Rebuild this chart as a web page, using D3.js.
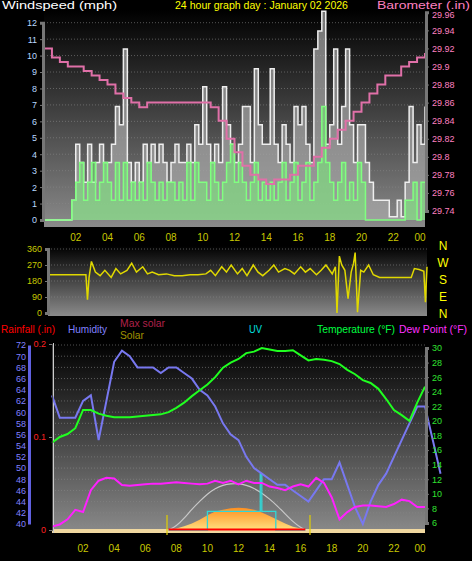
<!DOCTYPE html>
<html><head><meta charset="utf-8">
<script src="https://cdn.jsdelivr.net/npm/d3@7"></script>
<style>
body{margin:0;background:#000;}
text{font-family:"Liberation Sans","DejaVu Sans",sans-serif;}
</style></head><body>
<svg id="c" width="472" height="561"></svg>
<script>
// ---- data ----
const hourTicks = [2,4,6,8,10,12,14,16,18,20,22,24];
const hourLabels = ["02","04","06","08","10","12","14","16","18","20","22","00"];

// wind, 15 minute steps from 00:00 to 24:00
const windGust = [0,0,0,0, 0,0,0,1.2, 4.6,3.5,2.3,4.6, 2.3,3.5,4.6,3.5, 3.5,4.6,6.9,5.8,
  10.4,3.5,2.3,3.5, 2.3,4.6,3.5,4.6, 3.5,4.6,3.5,2.3, 3.5,4.6,3.5,3.5, 4.6,3.5,5.8,4.6,
  8.1,4.6,3.5,4.6, 3.5,8.1,5.8,4.6, 3.5,4.6,6.9,6.9, 3.5,9.2,5.8,4.6, 4.6,9.2,4.6,3.5,
  5.8,4.6,3.5,6.9, 5.8,6.9,4.6,3.5, 10.4,11.5,12.7,4.6, 5.8,10.4,4.6,6.9, 10.4,5.8,3.5,5.8,
  5.8,3.5,2.3,1.2, 1.2,1.2,1.2,0.2, 0.2,1.2,0.2,2.3, 6.9,3.5,5.8,4.6, 6.9];
const windAvg = [0,0,0,0, 0,0,0,1.2, 2.3,3.5,1.2,2.3, 3.5,1.2,2.3,3.5, 2.3,1.2,3.5,1.2,
  3.5,1.2,2.3,1.2, 2.3,1.2,3.5,2.3, 1.2,2.3,1.2,2.3, 2.3,1.2,2.3,1.2, 3.5,1.2,3.5,2.3,
  2.3,1.2,3.5,2.3, 1.2,2.3,3.5,4.6, 2.3,3.5,2.3,1.2, 2.3,3.5,1.2,2.3, 1.2,2.3,1.2,2.3,
  3.5,1.2,2.3,3.5, 1.2,2.3,3.5,1.2, 2.3,3.5,6.9,3.5, 2.3,1.2,2.3,3.5, 1.2,2.3,1.2,3.5,
  2.3,0,0,0, 0,0,0,0, 0,0,0,1.2, 1.2,2.3,0,2.3, 2.3];

// barometer, 30 minute steps
const baro = [29.92,29.91,29.905,29.9,29.9,29.895,29.89,29.885,29.88,29.87,29.865,29.86,29.855,
  29.86,29.86,29.86,29.86,29.86,29.86,29.86,29.86,29.855,29.84,29.82,29.805,29.79,29.78,29.775,
  29.77,29.775,29.775,29.78,29.79,29.79,29.8,29.81,29.82,29.83,29.84,29.85,29.86,29.87,29.88,
  29.89,29.89,29.9,29.905,29.91,29.915];

// wind direction
const dirHours = [0,1,2,2.4,2.5,2.6,2.75,3,3.3,3.6,4,4.3,4.6,5,5.3,5.6,6,6.3,6.6,7,7.5,8,8.5,9,9.5,10,
  10.3,10.6,11,11.3,11.6,12,12.3,12.6,13,13.3,13.6,14,14.3,14.6,15,15.3,15.6,16,16.3,16.6,17,17.3,17.6,
  18,18.2,18.3,18.45,18.6,18.8,19,19.2,19.35,19.45,19.6,19.8,20,20.3,20.6,21,22,23,23.2,23.5,23.8,23.9,24];
const dirDeg = [215,215,215,215,75,200,290,230,210,240,200,250,220,240,280,230,260,220,230,215,220,210,210,215,215,220,
  240,210,260,230,270,220,250,210,270,230,210,240,270,230,250,240,220,260,230,250,215,240,270,
  220,260,0,320,270,240,80,230,280,340,5,240,230,270,215,200,200,200,250,245,235,60,260];

// bottom panel, 30 minute steps
const humidity = [63,59,59,59,62,63,55,62,69,71,70,68,68,68,67,68,68,67,66,64,63,61,58,56,55,52,50,49,
  48,47,47,46,45,44,46,48,48,51,47,43,40,44,47,49,52,55,58,61,61,55,49];
const temperature = [17,17.8,18.2,19,21.5,21.5,21,20.7,20.5,20.5,20.5,20.6,20.7,20.8,20.9,21.2,21.8,22.5,23.4,24.2,
  25,26,27.3,28,28.5,29.3,29.5,30,29.8,29.6,29.6,29.7,29,28.3,28.5,28.4,28.2,27.8,27,26.4,25.6,25.2,24.4,23,21.5,
  20.8,20,22.5,24.7];
const dewPoint = [5.5,5.8,6.5,7.8,7.5,10.5,11.8,12.2,12.1,11.2,11.1,11.2,11.3,11.4,11.4,11.5,11.6,11.5,11.4,11.3,
  11.4,11.8,11.5,11.8,11.3,11.8,11.5,11.5,11,10.8,10.5,11,11.3,11,12.2,11.5,9.5,6.5,7.5,8.2,8.4,8.4,8.3,8.2,8.6,
  9.2,9,8.2,8.2];
const solarHours = [7.5,8,8.5,9,9.5,10,10.5,11,11.5,12,12.5,13,13.5,14,14.5,15,15.5,16,16.3];
const maxSolar = [0,8,25,45,62,78,90,97,100,100,97,90,80,67,52,35,18,5,0];
const solar = [0,3,8,14,22,32,40,44,47,48,47,44,38,30,22,14,7,3,0];
const uvHours = [7.5,10,13.4,13.5,14.4,16.3];
const uvIndex = [0,1,3,1,0,0];
const sunTimes = [7.4,16.6];

const svg = d3.select('#c');
const defs = svg.append('defs');
const grad = defs.append('linearGradient').attr('id','bg').attr('x1',0).attr('x2',0).attr('y1',0).attr('y2',1);
grad.append('stop').attr('offset','0%').attr('stop-color','#000');
grad.append('stop').attr('offset','100%').attr('stop-color','#8a8a8a');

function panel(x0,x1,y0,y1){
  svg.append('rect').attr('x',x0).attr('y',y0).attr('width',x1-x0).attr('height',y1-y0).attr('fill','url(#bg)');
}
function grid(g,x0,x1,ys){
  ys.forEach(y=>g.append('line').attr('x1',x0).attr('x2',x1).attr('y1',y).attr('y2',y)
    .attr('stroke','#888').attr('stroke-dasharray','1,2').attr('opacity',0.6));
}
function styleAxis(g,col){
  g.selectAll('path').attr('stroke','#777').attr('stroke-width',3);
  g.selectAll('line').attr('stroke','#777');
  g.selectAll('text').attr('fill',col).style('font-size','9px');
}
function timeAxis(x,y){
  hourTicks.forEach((h,i)=>svg.append('text').attr('x',Math.min(x(h),420)).attr('y',y).attr('text-anchor','middle')
    .attr('fill','#c8c800').style('font-size','10px').text(hourLabels[i]));
}
function label(t,x,y,w,col){
  svg.append('text').attr('x',x).attr('y',y).attr('fill',col).style('font-size','11px')
    .attr('textLength',w).attr('lengthAdjust','spacingAndGlyphs').text(t);
}

// ---- top panel: wind + barometer ----
const xT = d3.scaleLinear().domain([0,24]).range([44,425]);
const yW = d3.scaleLinear().domain([0,12]).range([220,22.7]);
const yB = d3.scaleLinear().domain([29.74,29.96]).range([211,12.3]);
panel(44,425,10,227);
const gT = svg.append('g');
grid(gT,44,425,d3.range(0,13).map(yW));
const q = windGust.map((d,i)=>i/4);
gT.append('path').datum(windGust).attr('fill','#a8a8a8').attr('opacity',0.7)
  .attr('d',d3.area().curve(d3.curveStepAfter).x((d,i)=>xT(q[i])).y0(yW(0)).y1(d=>yW(d)));
gT.append('path').datum(windGust).attr('fill','none').attr('stroke','#eee').attr('stroke-width',1.5)
  .attr('d',d3.line().curve(d3.curveStepAfter).x((d,i)=>xT(q[i])).y(d=>yW(d)));
gT.append('path').datum(windAvg).attr('fill','#70ff70').attr('opacity',0.45)
  .attr('d',d3.area().curve(d3.curveStepAfter).x((d,i)=>xT(q[i])).y0(yW(0)).y1(d=>yW(d)));
gT.append('path').datum(windAvg).attr('fill','none').attr('stroke','#80ff80').attr('stroke-width',1.5)
  .attr('d',d3.line().curve(d3.curveStepAfter).x((d,i)=>xT(q[i])).y(d=>yW(d)));
gT.append('path').datum(baro).attr('fill','none').attr('stroke','#e070a8').attr('stroke-width',2)
  .attr('d',d3.line().curve(d3.curveStepAfter).x((d,i)=>xT(i/2)).y(d=>yB(d)));
const axW = svg.append('g').attr('transform','translate(43,0)').call(d3.axisLeft(yW).ticks(12).tickSize(3));
styleAxis(axW,'#b8d8ff');
const axB = svg.append('g').attr('transform','translate(426,0)')
  .call(d3.axisRight(yB).tickValues(d3.range(29.74,29.961,0.02)).tickFormat(d=>d3.format('.2f')(d).replace(/0$/,'')).tickSize(3));
styleAxis(axB,'#ff80c0');
axB.selectAll('.tick text').filter(d=>d>29.95).attr('dy','0.55em');
label('Windspeed (mph)',2,9,115,'#fff');
label('24 hour graph day : January 02 2026',175,9,173,'#ffff00');
label('Barometer (.in)',377,9,93,'#ff80c0');
timeAxis(xT,241);

// ---- wind direction ----
const xD = d3.scaleLinear().domain([0,24]).range([48,427]);
const yD = d3.scaleLinear().domain([0,360]).range([313,249]);
panel(48,427,246,316);
const gD = svg.append('g');
grid(gD,48,427,[0,90,180,270,360].map(yD));
gD.append('path').datum(dirDeg).attr('fill','none').attr('stroke','#e0d800').attr('stroke-width',1.5)
  .attr('d',d3.line().x((d,i)=>xD(dirHours[i])).y(d=>yD(d)));
const axD = svg.append('g').attr('transform','translate(48,0)').call(d3.axisLeft(yD).tickValues([0,90,180,270,360]).tickSize(3));
styleAxis(axD,'#c8c800');
["N","W","S","E","N"].forEach((t,i)=>svg.append('text').attr('x',443).attr('y',250+i*17).attr('text-anchor','middle')
  .attr('fill','#ffff00').style('font-size','12px').text(t));

// legend row
label('Rainfall (.in)',1,333,54,'#ff0000');
label('Humidity',68,333,39,'#8080ff');
label('Max solar',120,327,45,'#b0204a');
label('Solar',120,339,24,'#a09000');
label('UV',249,333,13,'#00e0e0');
label('Temperature (°F)',317,333,78,'#00ff40');
label('Dew Point (°F)',399,333,68,'#ff30ff');

// ---- bottom panel ----
const xB = d3.scaleLinear().domain([0,24]).range([52,425]);
const yH = d3.scaleLinear().domain([40,72]).range([524,345]);
const yR = d3.scaleLinear().domain([0,0.2]).range([530,344]);
const yTmp = d3.scaleLinear().domain([6,30]).range([523,348]);
const yS = d3.scaleLinear().domain([0,404]).range([530,343]);
const yUV = d3.scaleLinear().domain([0,10]).range([530,343]);
panel(52,425,342,533);
const gB = svg.append('g');
grid(gB,52,425,d3.range(40,73,2).map(yH));
gB.append('rect').attr('x',52).attr('y',529).attr('width',373).attr('height',4).attr('fill','#f0d8a0');
gB.append('line').attr('x1',53.5).attr('x2',53.5).attr('y1',343).attr('y2',533).attr('stroke','#ccc');
const sg = defs.append('linearGradient').attr('id','sol').attr('x1',0).attr('x2',0).attr('y1',0).attr('y2',1);
sg.append('stop').attr('offset','0%').attr('stop-color','#ff9020');
sg.append('stop').attr('offset','100%').attr('stop-color','#ffe080');
gB.append('path').datum(solar).attr('fill','url(#sol)')
  .attr('d',d3.area().x((d,i)=>xB(solarHours[i])).y0(yS(0)).y1(d=>yS(d)));
gB.append('path').datum(maxSolar).attr('fill','none').attr('stroke','#c8c8c8').attr('stroke-width',1.2)
  .attr('d',d3.line().curve(d3.curveBasis).x((d,i)=>xB(solarHours[i])).y(d=>yS(d)));
gB.append('path').datum(uvIndex).attr('fill','none').attr('stroke','#30d8d8').attr('stroke-width',1.3)
  .attr('d',d3.line().curve(d3.curveStepAfter).x((d,i)=>xB(uvHours[i])).y(d=>yUV(d)));
gB.append('line').attr('x1',xB(solarHours[0])).attr('x2',xB(solarHours[solarHours.length-1]))
  .attr('y1',yR(0)-0.5).attr('y2',yR(0)-0.5).attr('stroke','#ff0000').attr('stroke-width',2);
sunTimes.forEach(t=>gB.append('line').attr('x1',xB(t)).attr('x2',xB(t)).attr('y1',515).attr('y2',535)
  .attr('stroke','#e0d000').attr('stroke-width',1.2));
const half = humidity.map((d,i)=>i/2);
gB.append('path').datum(humidity).attr('fill','none').attr('stroke','#7878f0').attr('stroke-width',2)
  .attr('d',d3.line().x((d,i)=>xB(half[i])).y(d=>yH(d)));
gB.append('path').datum(dewPoint).attr('fill','none').attr('stroke','#ff20ff').attr('stroke-width',2)
  .attr('d',d3.line().x((d,i)=>xB(half[i])).y(d=>yTmp(d)));
gB.append('path').datum(temperature).attr('fill','none').attr('stroke','#20ff20').attr('stroke-width',2)
  .attr('d',d3.line().x((d,i)=>xB(half[i])).y(d=>yTmp(d)));
const axH = svg.append('g').attr('transform','translate(29,0)').call(d3.axisLeft(yH).tickValues(d3.range(40,73,2)).tickSize(0));
styleAxis(axH,'#8080ff');
axH.selectAll('path').attr('stroke','#6060e0').attr('stroke-width',3);
const axR = svg.append('g').attr('transform','translate(52,0)').call(d3.axisLeft(yR).tickValues([0,0.1,0.2]).tickFormat(d=>d===0?'0':String(d)).tickSize(3));
styleAxis(axR,'#ff2020');
axR.selectAll('path').attr('stroke','#444').attr('stroke-width',1);
const axT = svg.append('g').attr('transform','translate(426,0)').call(d3.axisRight(yTmp).tickValues(d3.range(6,31,2)).tickSize(3));
styleAxis(axT,'#30e030');
timeAxis(xB,552);
</script></body></html>
